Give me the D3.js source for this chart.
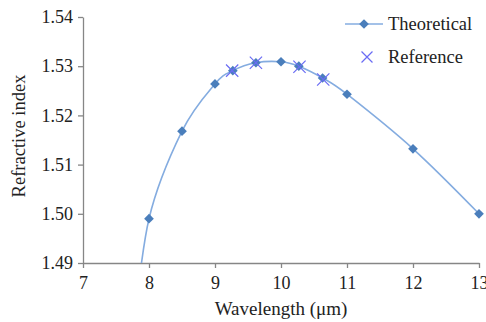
<!DOCTYPE html>
<html lang="en">
<head>
<meta charset="UTF-8">
<title>Refractive index vs wavelength</title>
<script src="https://d3js.org/d3.v7.min.js"></script>
<style>
    body { margin: 0; background: #fff; }
    svg { display: block; }
    svg text { font-family: "Liberation Serif", "DejaVu Serif", serif !important; fill: #222; }
    .axis path, .axis line { stroke: #868686; stroke-width: 1.3px; }
</style>
</head>
<body>
<div id="chart"></div>
<script>
    // wavelength (um) and refractive index
    const theoWave = [7.75, 8, 8.5, 9, 9.27, 9.62, 10, 10.27, 10.63, 11, 12, 13];
    const theoIndex = [1.474, 1.4990, 1.5168, 1.5264, 1.5291, 1.5307, 1.5309, 1.5300, 1.5276, 1.5243, 1.5132, 1.5000];
    const refWave = [9.26, 9.62, 10.28, 10.64];
    const refIndex = [1.5291, 1.5307, 1.5299, 1.5273];
    const xTicks = [7, 8, 9, 10, 11, 12, 13];
    const yTicks = [1.49, 1.50, 1.51, 1.52, 1.53, 1.54];

    const W = 486, H = 322;
    const margin = { top: 17, right: 7, bottom: 59, left: 83 };
    const width = W - margin.left - margin.right;
    const height = H - margin.top - margin.bottom;
    const serif = "'Liberation Serif', 'DejaVu Serif', serif";

    const svg = d3.select("#chart").append("svg")
        .attr("width", W).attr("height", H);

    const chart = svg.append("g")
        .attr("transform", `translate(${margin.left},${margin.top})`);

    const x = d3.scaleLinear().domain([7, 13]).range([0, width]);
    const y = d3.scaleLinear().domain([1.49, 1.54]).range([height, 0]);

    svg.append("defs").append("clipPath").attr("id", "plot")
        .append("rect").attr("x", 0).attr("y", -5).attr("width", width + 7).attr("height", height + 5);

    const theo = theoWave.map((w, i) => ({ w: w, n: theoIndex[i] }));
    const ref = refWave.map((w, i) => ({ w: w, n: refIndex[i] }));

    // axes
    chart.append("g").attr("class", "axis")
        .attr("transform", `translate(0,${height})`)
        .call(d3.axisBottom(x).tickValues(xTicks).tickFormat(d3.format("d")).tickSizeInner(5).tickSizeOuter(0).tickPadding(8))
        .attr("font-family", serif)
        .call(g => g.selectAll("text").style("font-size", "18px"));

    chart.append("g").attr("class", "axis")
        .call(d3.axisLeft(y).tickValues(yTicks).tickFormat(d3.format(".2f")).tickSizeInner(5).tickSizeOuter(0).tickPadding(5))
        .attr("font-family", serif)
        .call(g => g.selectAll("text").style("font-size", "18px"));

    // theoretical smooth line
    const line = d3.line()
        .x(d => x(d.w))
        .y(d => y(d.n))
        .curve(d3.curveCardinal.tension(0));

    const plot = chart.append("g").attr("clip-path", "url(#plot)");

    plot.append("path")
        .datum(theo)
        .attr("d", line)
        .attr("fill", "none")
        .attr("stroke", "#84ace0")
        .attr("stroke-width", 1.6);

    const diamond = d3.symbol().type(d3.symbolDiamond2).size(60);
    const cross = d3.symbol().type(d3.symbolTimes).size(100);

    plot.selectAll(".theo")
        .data(theo)
        .join("path")
        .attr("class", "theo")
        .attr("transform", d => `translate(${x(d.w)},${y(d.n)})`)
        .attr("d", diamond)
        .attr("fill", "#4a7ebb");

    plot.selectAll(".ref")
        .data(ref)
        .join("path")
        .attr("class", "ref")
        .attr("transform", d => `translate(${x(d.w)},${y(d.n)})`)
        .attr("d", cross)
        .attr("fill", "none")
        .attr("stroke", "#6a6cf4")
        .attr("stroke-width", 1.2);

    // axis titles
    svg.append("text")
        .attr("x", margin.left + width / 2)
        .attr("y", 315)
        .attr("text-anchor", "middle")
        .style("font-size", "19px")
        .text("Wavelength (\u03bcm)");

    svg.append("text")
        .attr("transform", `translate(25,${margin.top + height / 2 - 4}) rotate(-90)`)
        .attr("text-anchor", "middle")
        .style("font-size", "18.5px")
        .text("Refractive index");

    // legend
    const legend = svg.append("g").attr("transform", "translate(345,24)");

    legend.append("line")
        .attr("x1", 0).attr("x2", 38).attr("y1", 0).attr("y2", 0)
        .attr("stroke", "#84ace0").attr("stroke-width", 1.6);
    legend.append("path")
        .attr("transform", "translate(19,0)")
        .attr("d", diamond)
        .attr("fill", "#4a7ebb");
    legend.append("text")
        .attr("x", 43).attr("y", 6)
        .style("font-size", "18.5px")
        .text("Theoretical");

    legend.append("path")
        .attr("transform", "translate(22,33)")
        .attr("d", d3.symbol().type(d3.symbolTimes).size(80))
        .attr("fill", "none")
        .attr("stroke", "#6a6cf4")
        .attr("stroke-width", 1.2);
    legend.append("text")
        .attr("x", 43).attr("y", 39)
        .style("font-size", "18.5px")
        .text("Reference");
</script>
</body>
</html>
